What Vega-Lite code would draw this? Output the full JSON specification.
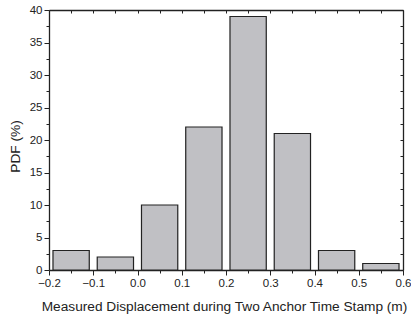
{
  "$schema": "https://vega.github.io/schema/vega-lite/v6.json",
  "width": 354,
  "height": 260,
  "autosize": {"type": "none"},
  "padding": {"left": 49, "top": 10, "right": 8, "bottom": 50},
  "background": "white",
  "config": {
    "view": {"stroke": null},
    "axis": {"labelFont": "Liberation Sans", "titleFont": "Liberation Sans", "labelFontSize": 11.5, "titleFontSize": 13.7, "labelColor": "#222", "titleColor": "#222", "titleFontWeight": "normal", "domainColor": "#222", "tickColor": "#222", "domainWidth": 1.3, "tickWidth": 1, "grid": false}
  },
  "data": {
    "values": [
      {"lo": -0.2, "hi": -0.1, "pdf": 3},
      {"lo": -0.1, "hi": 0.0, "pdf": 2},
      {"lo": 0.0, "hi": 0.1, "pdf": 10},
      {"lo": 0.1, "hi": 0.2, "pdf": 22},
      {"lo": 0.2, "hi": 0.3, "pdf": 39},
      {"lo": 0.3, "hi": 0.4, "pdf": 21},
      {"lo": 0.4, "hi": 0.5, "pdf": 3},
      {"lo": 0.5, "hi": 0.6, "pdf": 1}
    ]
  },
  "transform": [
    {"calculate": "datum.lo + 0.009", "as": "x0"},
    {"calculate": "datum.hi - 0.009", "as": "x1"}
  ],
  "layer": [
    {
      "mark": {"type": "bar", "fill": "#c0c0c4", "stroke": "#222", "strokeWidth": 1.2},
      "encoding": {
        "x": {"field": "x0", "type": "quantitative", "scale": {"domain": [-0.2, 0.6], "nice": false, "zero": false},
          "axis": {"orient": "bottom", "title": "Measured Displacement during Two Anchor Time Stamp (m)", "values": [-0.2,-0.15,-0.1,-0.05,0,0.05,0.1,0.15,0.2,0.25,0.3,0.35,0.4,0.45,0.5,0.55,0.6],
            "labelExpr": "abs(round(datum.value*100) % 10) == 0 ? format(datum.value, '.1f') : ''",
            "tickSize": {"condition": {"test": "abs(round(datum.value*100) % 10) == 0", "value": 5}, "value": 3},
            "labelPadding": 2, "titleY": 29, "titleX": 175, "labelFlush": false, "labelOverlap": false}},
        "x2": {"field": "x1"},
        "y": {"field": "pdf", "type": "quantitative", "scale": {"domain": [0, 40], "nice": false},
          "axis": {"orient": "left", "title": "PDF (%)", "values": [0,2.5,5,7.5,10,12.5,15,17.5,20,22.5,25,27.5,30,32.5,35,37.5,40],
            "labelExpr": "datum.value % 5 == 0 ? format(datum.value, 'd') : ''",
            "tickSize": {"condition": {"test": "datum.value % 5 == 0", "value": 5}, "value": 3},
            "labelPadding": 2, "titleX": -27, "titleY": 136, "labelOverlap": false}},
        "y2": {"datum": 0}
      }
    },
    {
      "mark": {"type": "bar", "opacity": 0},
      "encoding": {
        "x": {"field": "x0", "type": "quantitative", "scale": {"domain": [-0.2, 0.6], "nice": false, "zero": false},
          "axis": {"orient": "top", "title": null, "labels": false, "values": [-0.2,-0.15,-0.1,-0.05,0,0.05,0.1,0.15,0.2,0.25,0.3,0.35,0.4,0.45,0.5,0.55,0.6], "tickSize": -3}},
        "x2": {"field": "x1"},
        "y": {"field": "pdf", "type": "quantitative", "scale": {"domain": [0, 40], "nice": false},
          "axis": {"orient": "right", "title": null, "labels": false, "values": [0,2.5,5,7.5,10,12.5,15,17.5,20,22.5,25,27.5,30,32.5,35,37.5,40], "tickSize": -3}},
        "y2": {"datum": 0}
      }
    }
  ],
  "resolve": {"axis": {"x": "independent", "y": "independent"}}
}
